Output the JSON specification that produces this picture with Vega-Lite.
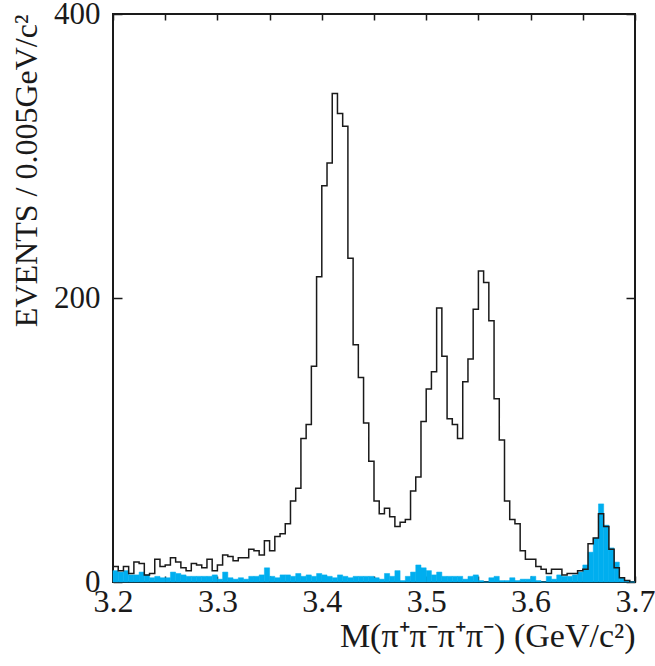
{
  "$schema": "https://vega.github.io/schema/vega-lite/v6.json",
  "width": 522,
  "height": 568,
  "autosize": {"type": "none"},
  "padding": {"left": 113, "top": 14, "right": 20, "bottom": 84},
  "config": {
    "view": {"stroke": "#1a1a1a", "strokeWidth": 2},
    "font": "Liberation Serif",
    "axis": {"grid": false, "domain": false, "tickColor": "#1a1a1a", "tickWidth": 1.5, "labelColor": "#1a1a1a", "titleColor": "#1a1a1a", "labelFont": "Liberation Serif", "titleFont": "Liberation Serif", "titleFontWeight": "normal", "labelFlush": false, "labelOverlap": false}
  },
  "data": {"values": [
    {"lo": 3.200, "hi": 3.205, "total": 11, "signal": 8},
    {"lo": 3.205, "hi": 3.210, "total": 8, "signal": 7},
    {"lo": 3.210, "hi": 3.215, "total": 11, "signal": 8},
    {"lo": 3.215, "hi": 3.220, "total": 6, "signal": 5},
    {"lo": 3.220, "hi": 3.225, "total": 14, "signal": 5},
    {"lo": 3.225, "hi": 3.230, "total": 13, "signal": 7},
    {"lo": 3.230, "hi": 3.235, "total": 5, "signal": 5},
    {"lo": 3.235, "hi": 3.240, "total": 6, "signal": 3},
    {"lo": 3.240, "hi": 3.245, "total": 16, "signal": 4},
    {"lo": 3.245, "hi": 3.250, "total": 11, "signal": 3},
    {"lo": 3.250, "hi": 3.255, "total": 12, "signal": 3},
    {"lo": 3.255, "hi": 3.260, "total": 17, "signal": 7},
    {"lo": 3.260, "hi": 3.265, "total": 14, "signal": 6},
    {"lo": 3.265, "hi": 3.270, "total": 10, "signal": 5},
    {"lo": 3.270, "hi": 3.275, "total": 8, "signal": 4},
    {"lo": 3.275, "hi": 3.280, "total": 13, "signal": 4},
    {"lo": 3.280, "hi": 3.285, "total": 12, "signal": 4},
    {"lo": 3.285, "hi": 3.290, "total": 10, "signal": 4},
    {"lo": 3.290, "hi": 3.295, "total": 16, "signal": 4},
    {"lo": 3.295, "hi": 3.300, "total": 8, "signal": 5},
    {"lo": 3.300, "hi": 3.305, "total": 12, "signal": 2},
    {"lo": 3.305, "hi": 3.310, "total": 19, "signal": 7},
    {"lo": 3.310, "hi": 3.315, "total": 18, "signal": 3},
    {"lo": 3.315, "hi": 3.320, "total": 15, "signal": 2},
    {"lo": 3.320, "hi": 3.325, "total": 17, "signal": 3},
    {"lo": 3.325, "hi": 3.330, "total": 17, "signal": 2},
    {"lo": 3.330, "hi": 3.335, "total": 23, "signal": 4},
    {"lo": 3.335, "hi": 3.340, "total": 22, "signal": 4},
    {"lo": 3.340, "hi": 3.345, "total": 19, "signal": 5},
    {"lo": 3.345, "hi": 3.350, "total": 29, "signal": 10},
    {"lo": 3.350, "hi": 3.355, "total": 22, "signal": 4},
    {"lo": 3.355, "hi": 3.360, "total": 32, "signal": 3},
    {"lo": 3.360, "hi": 3.365, "total": 34, "signal": 5},
    {"lo": 3.365, "hi": 3.370, "total": 41, "signal": 5},
    {"lo": 3.370, "hi": 3.375, "total": 57, "signal": 4},
    {"lo": 3.375, "hi": 3.380, "total": 66, "signal": 6},
    {"lo": 3.380, "hi": 3.385, "total": 101, "signal": 4},
    {"lo": 3.385, "hi": 3.390, "total": 111, "signal": 5},
    {"lo": 3.390, "hi": 3.395, "total": 152, "signal": 4},
    {"lo": 3.395, "hi": 3.400, "total": 215, "signal": 6},
    {"lo": 3.400, "hi": 3.405, "total": 279, "signal": 5},
    {"lo": 3.405, "hi": 3.410, "total": 295, "signal": 4},
    {"lo": 3.410, "hi": 3.415, "total": 344, "signal": 3},
    {"lo": 3.415, "hi": 3.420, "total": 330, "signal": 5},
    {"lo": 3.420, "hi": 3.425, "total": 321, "signal": 4},
    {"lo": 3.425, "hi": 3.430, "total": 228, "signal": 3},
    {"lo": 3.430, "hi": 3.435, "total": 167, "signal": 4},
    {"lo": 3.435, "hi": 3.440, "total": 144, "signal": 4},
    {"lo": 3.440, "hi": 3.445, "total": 112, "signal": 4},
    {"lo": 3.445, "hi": 3.450, "total": 85, "signal": 4},
    {"lo": 3.450, "hi": 3.455, "total": 57, "signal": 3},
    {"lo": 3.455, "hi": 3.460, "total": 48, "signal": 2},
    {"lo": 3.460, "hi": 3.465, "total": 52, "signal": 6},
    {"lo": 3.465, "hi": 3.470, "total": 46, "signal": 4},
    {"lo": 3.470, "hi": 3.475, "total": 39, "signal": 8},
    {"lo": 3.475, "hi": 3.480, "total": 42, "signal": 1},
    {"lo": 3.480, "hi": 3.485, "total": 44, "signal": 4},
    {"lo": 3.485, "hi": 3.490, "total": 64, "signal": 7},
    {"lo": 3.490, "hi": 3.495, "total": 74, "signal": 12},
    {"lo": 3.495, "hi": 3.500, "total": 113, "signal": 10},
    {"lo": 3.500, "hi": 3.505, "total": 136, "signal": 8},
    {"lo": 3.505, "hi": 3.510, "total": 148, "signal": 5},
    {"lo": 3.510, "hi": 3.515, "total": 193, "signal": 7},
    {"lo": 3.515, "hi": 3.520, "total": 159, "signal": 4},
    {"lo": 3.520, "hi": 3.525, "total": 115, "signal": 4},
    {"lo": 3.525, "hi": 3.530, "total": 111, "signal": 4},
    {"lo": 3.530, "hi": 3.535, "total": 101, "signal": 4},
    {"lo": 3.535, "hi": 3.540, "total": 141, "signal": 2},
    {"lo": 3.540, "hi": 3.545, "total": 157, "signal": 4},
    {"lo": 3.545, "hi": 3.550, "total": 192, "signal": 5},
    {"lo": 3.550, "hi": 3.555, "total": 219, "signal": 1},
    {"lo": 3.555, "hi": 3.560, "total": 211, "signal": 0},
    {"lo": 3.560, "hi": 3.565, "total": 184, "signal": 3},
    {"lo": 3.565, "hi": 3.570, "total": 129, "signal": 4},
    {"lo": 3.570, "hi": 3.575, "total": 100, "signal": 1},
    {"lo": 3.575, "hi": 3.580, "total": 57, "signal": 1},
    {"lo": 3.580, "hi": 3.585, "total": 44, "signal": 3},
    {"lo": 3.585, "hi": 3.590, "total": 41, "signal": 1},
    {"lo": 3.590, "hi": 3.595, "total": 22, "signal": 2},
    {"lo": 3.595, "hi": 3.600, "total": 16, "signal": 2},
    {"lo": 3.600, "hi": 3.605, "total": 16, "signal": 4},
    {"lo": 3.605, "hi": 3.610, "total": 11, "signal": 1},
    {"lo": 3.610, "hi": 3.615, "total": 9, "signal": 0},
    {"lo": 3.615, "hi": 3.620, "total": 6, "signal": 4},
    {"lo": 3.620, "hi": 3.625, "total": 9, "signal": 2},
    {"lo": 3.625, "hi": 3.630, "total": 9, "signal": 5},
    {"lo": 3.630, "hi": 3.635, "total": 5, "signal": 4},
    {"lo": 3.635, "hi": 3.640, "total": 6, "signal": 4},
    {"lo": 3.640, "hi": 3.645, "total": 6, "signal": 5},
    {"lo": 3.645, "hi": 3.650, "total": 8, "signal": 7},
    {"lo": 3.650, "hi": 3.655, "total": 9, "signal": 12},
    {"lo": 3.655, "hi": 3.660, "total": 27, "signal": 21},
    {"lo": 3.660, "hi": 3.665, "total": 31, "signal": 31},
    {"lo": 3.665, "hi": 3.670, "total": 48, "signal": 55},
    {"lo": 3.670, "hi": 3.675, "total": 39, "signal": 40},
    {"lo": 3.675, "hi": 3.680, "total": 23, "signal": 24},
    {"lo": 3.680, "hi": 3.685, "total": 10, "signal": 14},
    {"lo": 3.685, "hi": 3.690, "total": 3, "signal": 3},
    {"lo": 3.690, "hi": 3.695, "total": 1, "signal": 1},
    {"lo": 3.695, "hi": 3.700, "total": 0, "signal": 0}
  ]},
  "layer": [
    {
      "mark": {"type": "rect", "color": "#00aeef", "stroke": "#00aeef", "strokeWidth": 0.5},
      "encoding": {
        "x": {"field": "lo", "type": "quantitative", "scale": {"domain": [3.2, 3.7], "nice": false, "zero": false},
          "axis": {"orient": "bottom", "values": [3.2, 3.25, 3.3, 3.35, 3.4, 3.45, 3.5, 3.55, 3.6, 3.65, 3.7],
            "labelExpr": "abs(datum.value*10 - round(datum.value*10)) < 0.01 ? format(datum.value, '.1f') : ''",
            "tickSize": -6, "labelFontSize": 32, "labelPadding": 10,
            "title": "M(π⁺π⁻π⁺π⁻) (GeV/c²)", "titleFontSize": 34, "titleAnchor": "end", "titlePadding": 2}},
        "x2": {"field": "hi"},
        "y": {"field": "signal", "type": "quantitative", "scale": {"domain": [0, 400], "nice": false},
          "axis": {"orient": "left", "values": [0, 200, 400], "tickSize": -9, "labelFontSize": 31, "labelPadding": 22,
            "title": "EVENTS / 0.005GeV/c²", "titleFontSize": 32, "titleAnchor": "end", "titlePadding": 10}},
        "y2": {"datum": 0}
      }
    },
    {
      "mark": {"type": "line", "interpolate": "step-after", "color": "#1a1a1a", "strokeWidth": 1.5},
      "encoding": {
        "x": {"field": "lo", "type": "quantitative",
          "axis": {"orient": "top", "values": [3.2, 3.25, 3.3, 3.35, 3.4, 3.45, 3.5, 3.55, 3.6, 3.65, 3.7], "tickSize": -6, "labels": false, "title": null}},
        "y": {"field": "total", "type": "quantitative",
          "axis": {"orient": "right", "values": [0, 200, 400], "tickSize": -9, "labels": false, "title": null}}
      }
    }
  ],
  "resolve": {"axis": {"x": "independent", "y": "independent"}}
}
